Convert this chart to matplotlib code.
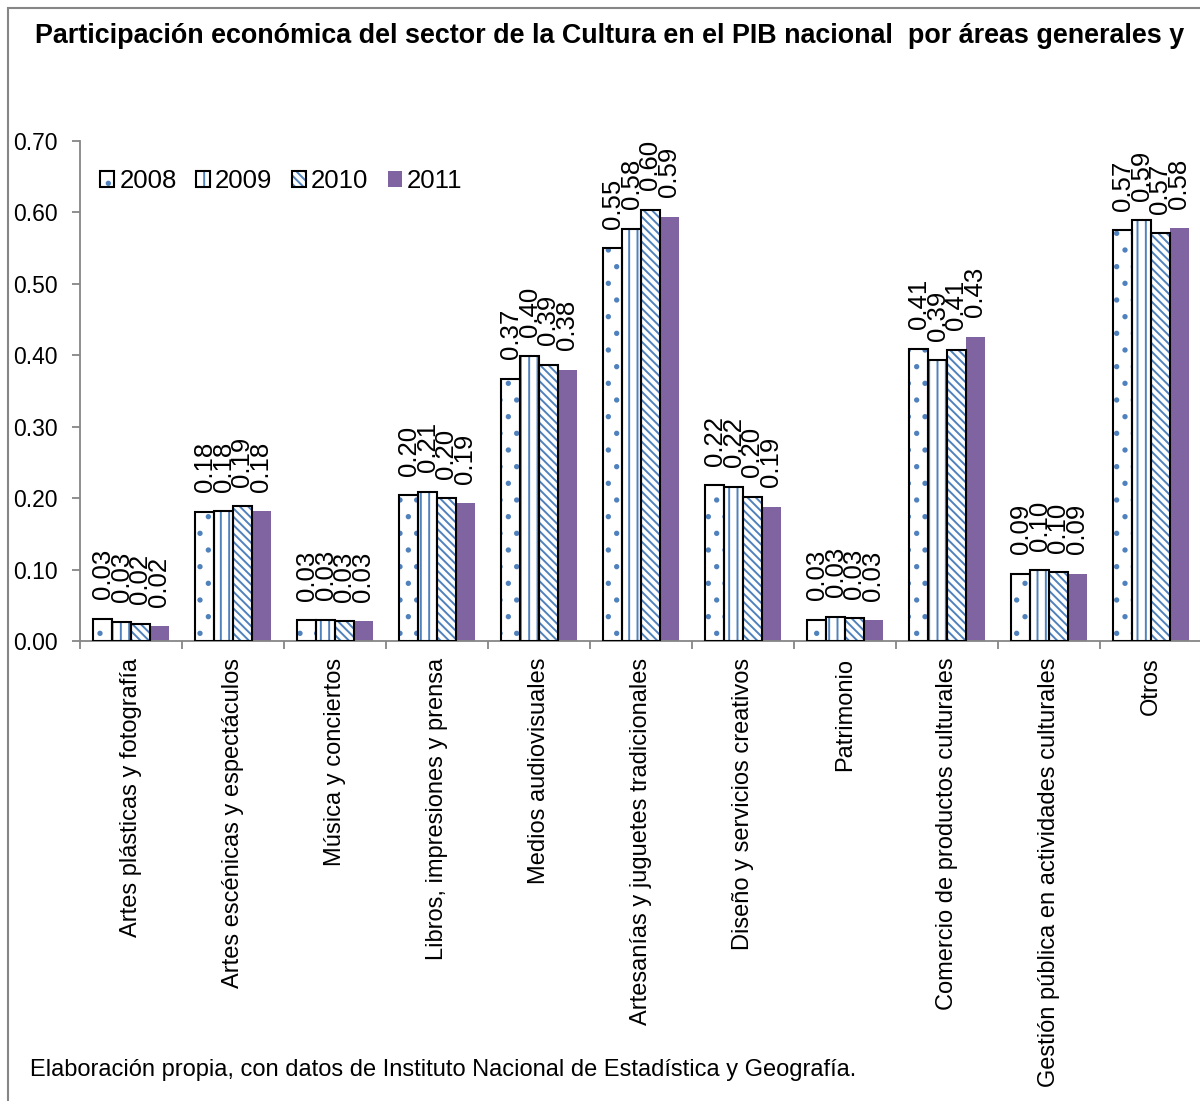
import matplotlib
matplotlib.use("Agg")
import matplotlib.pyplot as plt
import numpy as np
from matplotlib.patches import Rectangle, Patch
from matplotlib.legend_handler import HandlerTuple

plt.rcParams['font.family'] = ['Liberation Sans', 'DejaVu Sans']
plt.rcParams['hatch.linewidth'] = 1.4

categories = ["Artes plásticas y fotografía", "Artes escénicas y espectáculos",
              "Música y conciertos", "Libros, impresiones y prensa",
              "Medios audiovisuales", "Artesanías y juguetes tradicionales",
              "Diseño y servicios creativos", "Patrimonio",
              "Comercio de productos culturales",
              "Gestión pública en actividades culturales", "Otros"]
years = ["2008", "2009", "2010", "2011"]
v2008 = [0.031, 0.181, 0.029, 0.204, 0.367, 0.550, 0.218, 0.030, 0.409, 0.094, 0.575]
v2009 = [0.027, 0.182, 0.030, 0.209, 0.399, 0.577, 0.216, 0.034, 0.393, 0.099, 0.589]
v2010 = [0.024, 0.189, 0.028, 0.200, 0.387, 0.604, 0.202, 0.032, 0.408, 0.096, 0.571]
v2011 = [0.021, 0.182, 0.028, 0.193, 0.380, 0.594, 0.188, 0.029, 0.426, 0.094, 0.578]
series = [v2008, v2009, v2010, v2011]

BLUE = '#4F81BD'
PURPLE = '#8064A2'
GRAY = '#868686'
hatches = ['.', '||', '\\\\\\\\', None]

W, H = 1200, 1101
fig = plt.figure(figsize=(W / 100, H / 100), dpi=100)
ax = fig.add_axes([80 / W, 1 - 641 / H, 1122 / W, 500 / H])

x = np.arange(len(categories))
bw = 0.184
handles = []
for j, (yr, vals) in enumerate(zip(years, series)):
    pos = x + (j - 1.5) * bw
    if j < 3:
        ax.bar(pos, vals, bw, color='white', edgecolor=BLUE, linewidth=0,
               hatch=hatches[j], zorder=2)
        ax.bar(pos, vals, bw, fill=False, edgecolor='black', linewidth=1.5, zorder=3)
        h = (Patch(facecolor='white', edgecolor=BLUE, hatch=hatches[j], linewidth=0),
             Patch(fill=False, edgecolor='black', linewidth=1.5))
    else:
        ax.bar(pos, vals, bw, color=PURPLE, linewidth=0, zorder=2)
        h = Patch(facecolor=PURPLE, linewidth=0)
    handles.append(h)
    for px, v in zip(pos, vals):
        ax.annotate(f"{v:.2f}", (px, v), xytext=(0, 14), textcoords='offset points',
                    rotation=90, ha='center', va='bottom', fontsize=18.5)

ax.set_xlim(-0.5, len(categories) - 0.5)
ax.set_ylim(0, 0.70)
ax.set_yticks(np.arange(0, 0.71, 0.1))
ax.set_yticklabels([f"{t:.2f}" for t in np.arange(0, 0.71, 0.1)], fontsize=16.5)
ax.set_xticks(x)
ax.set_xticklabels(categories, rotation=90, fontsize=17, va='top', ha='center')
ax.set_xticks(np.arange(-0.5, len(categories), 1), minor=True)
ax.tick_params(axis='x', which='major', length=0, pad=12)
ax.tick_params(axis='x', which='minor', length=6, color=GRAY, width=1.3)
ax.tick_params(axis='y', length=6, color=GRAY, width=1.3, pad=10)
for s in ['top', 'right']:
    ax.spines[s].set_visible(False)
for s in ['left', 'bottom']:
    ax.spines[s].set_color(GRAY)
    ax.spines[s].set_linewidth(1.3)

leg = ax.legend(handles, years, ncol=4, frameon=False, fontsize=18.5,
                loc='upper left', bbox_to_anchor=(100 / W, 1 - 169 / H),
                bbox_transform=fig.transFigure, borderpad=0, borderaxespad=0,
                handlelength=0.55, handleheight=0.55, handletextpad=0.2,
                columnspacing=0.75,
                handler_map={tuple: HandlerTuple(ndivide=1, pad=0)})

fig.text(610 / W, 1 - 36 / H,
         "Participación económica del sector de la Cultura en el PIB nacional  por áreas generales y",
         ha='center', va='center', fontsize=19.4, fontweight='bold')
fig.text(30 / W, 1 - 1070 / H,
         "Elaboración propia, con datos de Instituto Nacional de Estadística y Geografía.",
         ha='left', va='center', fontsize=17)

fig.patches.append(Rectangle((8 / W, -0.01), 1.05, 1 - 8 / H + 0.01, transform=fig.transFigure,
                             fill=False, edgecolor=GRAY, linewidth=1.5))

fig.savefig("out.png", dpi=100)
